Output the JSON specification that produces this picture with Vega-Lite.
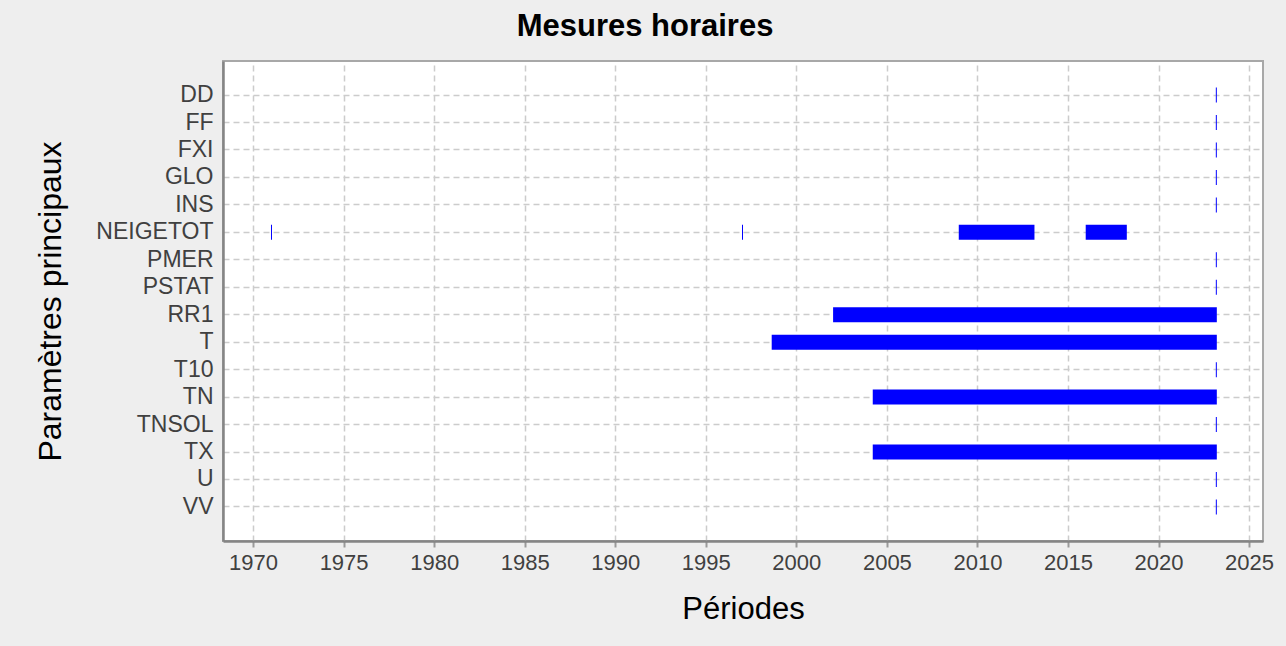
{
  "$schema": "https://vega.github.io/schema/vega-lite/v6.json",
  "width": 1040,
  "height": 480,
  "autosize": "none",
  "padding": {"left": 223, "top": 61, "right": 23, "bottom": 105},
  "background": "#eeeeee",
  "title": {
    "text": "Mesures horaires",
    "font": "Liberation Sans",
    "fontSize": 31,
    "fontWeight": "bold",
    "color": "#000000",
    "anchor": "middle",
    "frame": "group",
    "dx": -98,
    "baseline": "alphabetic",
    "offset": -6
  },
  "config": {
    "view": {"fill": "#ffffff", "stroke": "#a8a8a8", "strokeWidth": 2},
    "axis": {
      "labelFont": "Liberation Sans",
      "titleFont": "Liberation Sans",
      "labelColor": "#404040",
      "titleColor": "#000000",
      "titleFontWeight": "normal",
      "gridColor": "#cccccc",
      "gridDash": [6, 4],
      "gridWidth": 1.5,
      "domainColor": "#858585",
      "domainWidth": 2.5,
      "tickColor": "#9a9a9a",
      "tickWidth": 2
    }
  },
  "data": {
    "values": [
      {"param": "DD", "start": 2023.165, "end": 2023.22},
      {"param": "FF", "start": 2023.165, "end": 2023.22},
      {"param": "FXI", "start": 2023.165, "end": 2023.22},
      {"param": "GLO", "start": 2023.165, "end": 2023.22},
      {"param": "INS", "start": 2023.165, "end": 2023.22},
      {"param": "NEIGETOT", "start": 1970.99, "end": 1971.045},
      {"param": "NEIGETOT", "start": 1997.0, "end": 1997.055},
      {"param": "NEIGETOT", "start": 2008.97, "end": 2013.15},
      {"param": "NEIGETOT", "start": 2015.98, "end": 2018.25},
      {"param": "PMER", "start": 2023.165, "end": 2023.22},
      {"param": "PSTAT", "start": 2023.165, "end": 2023.22},
      {"param": "RR1", "start": 2002.03, "end": 2023.22},
      {"param": "T", "start": 1998.64, "end": 2023.22},
      {"param": "T10", "start": 2023.165, "end": 2023.22},
      {"param": "TN", "start": 2004.22, "end": 2023.22},
      {"param": "TNSOL", "start": 2023.165, "end": 2023.22},
      {"param": "TX", "start": 2004.22, "end": 2023.22},
      {"param": "U", "start": 2023.165, "end": 2023.22},
      {"param": "VV", "start": 2023.165, "end": 2023.22}
    ]
  },
  "mark": {"type": "bar", "color": "#0000ff", "size": 15},
  "encoding": {
    "y": {
      "field": "param",
      "type": "nominal",
      "sort": ["DD", "FF", "FXI", "GLO", "INS", "NEIGETOT", "PMER", "PSTAT", "RR1", "T", "T10", "TN", "TNSOL", "TX", "U", "VV"],
      "scale": {"type": "band", "paddingInner": 0, "paddingOuter": 0.74},
      "axis": {
        "title": "Paramètres principaux",
        "titleFontSize": 32,
        "titleX": -163,
        "titleBaseline": "alphabetic",
        "titleAngle": -90,
        "labelFontSize": 23,
        "labelPadding": 10,
        "ticks": false,
        "bandPosition": 0.5,
        "grid": true
      }
    },
    "x": {
      "field": "start",
      "type": "quantitative",
      "scale": {"domain": [1968.34, 2025.77], "nice": false, "zero": false},
      "axis": {
        "title": "Périodes",
        "titleFontSize": 31,
        "titleY": 77,
        "titleBaseline": "alphabetic",
        "labelFontSize": 22,
        "labelPadding": 5,
        "tickSize": 6,
        "format": "d",
        "values": [1970, 1975, 1980, 1985, 1990, 1995, 2000, 2005, 2010, 2015, 2020, 2025],
        "grid": true
      }
    },
    "x2": {"field": "end"}
  }
}
